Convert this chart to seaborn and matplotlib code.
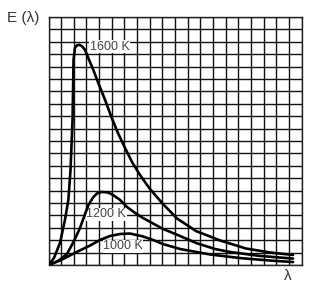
import matplotlib
matplotlib.use("Agg")
import matplotlib.pyplot as plt
import seaborn as sns
import numpy as np
import pandas as pd

# Curve data (grid units: 20 x 20 grid)
x_1600 = [0, 0.43, 0.91, 1.30, 1.57, 1.74, 1.82, 1.90, 1.94, 1.98, 2.09, 2.25, 2.43, 2.65, 2.89,
          3.15, 3.54, 3.94, 4.47, 5.00, 5.49, 6.05, 6.60, 7.23, 8.02, 9.05, 10.16, 11.66, 13.56,
          15.61, 17.51, 19.33]
y_1600 = [0, 0.56, 1.78, 3.63, 5.25, 7.67, 9.69, 11.70, 14.12, 16.55, 17.51, 17.72, 17.76, 17.64,
          17.35, 16.68, 15.74, 14.66, 13.32, 11.86, 10.65, 9.44, 8.31, 7.26, 6.13, 4.92, 3.75,
          2.74, 1.98, 1.33, 1.01, 0.81]

x_1200 = [0, 0.75, 1.46, 2.02, 2.49, 2.89, 3.16, 3.52, 3.83, 4.23, 4.70, 5.10, 5.65, 6.21, 6.84,
          7.47, 9.05, 10.40, 11.66, 13.16, 14.35, 16.72, 19.33]
y_1200 = [0, 0.32, 0.89, 1.94, 2.99, 4.12, 4.84, 5.45, 5.77, 5.89, 5.85, 5.65, 5.25, 4.68, 4.20,
          3.79, 2.91, 2.34, 1.78, 1.29, 1.05, 0.73, 0.52]

x_1000 = [0, 0.91, 2.23, 3.28, 4.07, 4.86, 5.65, 6.44, 7.47, 8.26, 9.05, 10.40, 12.77, 15.14,
          17.51, 19.33]
y_1000 = [0, 0.36, 1.05, 1.57, 2.02, 2.34, 2.50, 2.54, 2.30, 2.02, 1.69, 1.29, 0.85, 0.56,
          0.36, 0.24]

curve_labels = ["1600 K", "1200 K", "1000 K"]
y_label = "E (λ)"
x_label = "λ"

sns.set_style("white")
plt.rcParams["font.family"] = ["Liberation Sans", "DejaVu Sans"]

fig = plt.figure(figsize=(3.26, 2.89), dpi=100)
ax = fig.add_axes([48.5 / 326, 24 / 289, 253 / 326, 248 / 289])

for xs, ys in [(x_1600, y_1600), (x_1200, y_1200), (x_1000, y_1000)]:
    df = pd.DataFrame({"x": xs, "y": ys})
    sns.lineplot(data=df, x="x", y="y", sort=False, estimator=None, ax=ax,
                 color="black", linewidth=1.9, zorder=3)

ax.set_xlim(0, 20)
ax.set_ylim(0, 20)
ax.set_xticks(np.arange(0, 21))
ax.set_yticks(np.arange(0, 21))
ax.set_xticklabels([])
ax.set_yticklabels([])
ax.tick_params(length=0)
ax.grid(True, color="#111111", linewidth=1.0)
ax.set_axisbelow(True)
ax.set_xlabel("")
ax.set_ylabel("")
for s in ax.spines.values():
    s.set_color("#222222")
    s.set_linewidth(1.0)

txt_kw = dict(fontsize=9, color="#444444", va="center", ha="left", zorder=2.5,
              bbox=dict(facecolor="white", edgecolor="none", pad=0.3))
ax.text(3.25, 17.6, curve_labels[0], **txt_kw)
ax.text(3.0, 4.1, curve_labels[1], **txt_kw)
ax.text(4.3, 1.5, curve_labels[2], **txt_kw)

fig.text(7 / 326, 1 - 18 / 289, y_label, fontsize=11, color="#333333", va="center", ha="left")
fig.text(288 / 326, 1 - 276 / 289, x_label, fontsize=11, color="#333333", va="center", ha="center")

fig.savefig("out.png", dpi=100)
